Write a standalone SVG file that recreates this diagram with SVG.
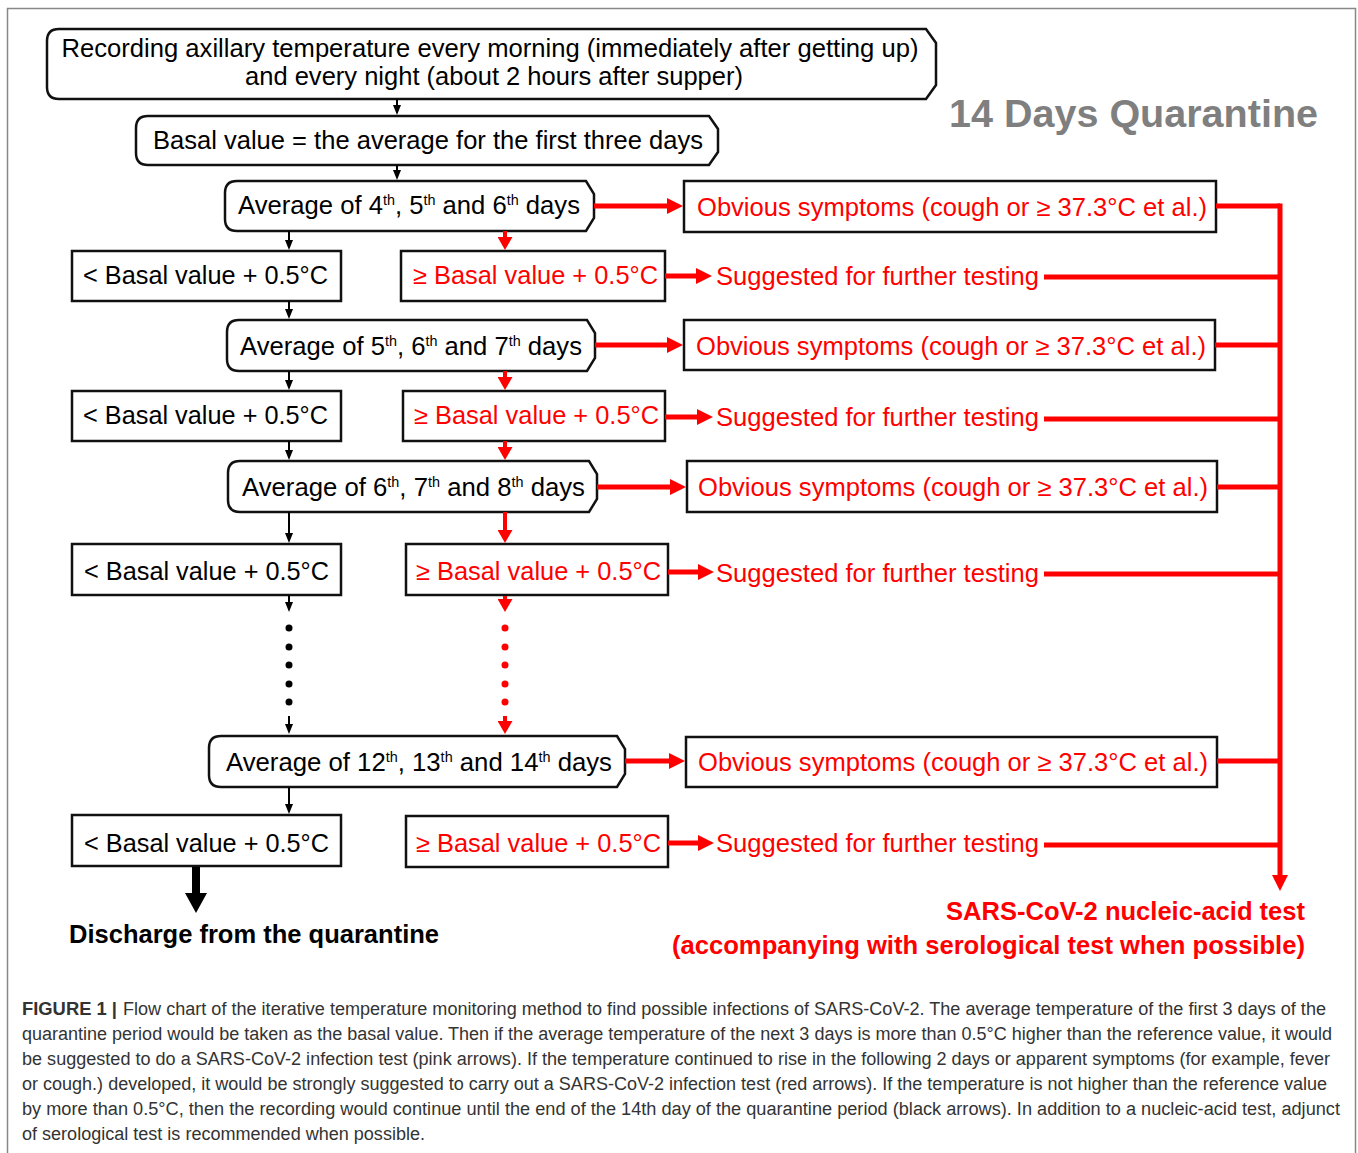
<svg xmlns="http://www.w3.org/2000/svg" width="1358" height="1153" viewBox="0 0 1358 1153">
<style>
text{font-family:"Liberation Sans",Arial,sans-serif}
.t{font-size:25px;fill:#000}
.r{font-size:25px;fill:#ff0000}
.box{fill:#fff;stroke:#111;stroke-width:2.5}
.bl{stroke:#000;stroke-width:2;fill:none}
.rl{stroke:#ff0000;stroke-width:5;fill:none}
.rv{stroke:#ff0000;stroke-width:4;fill:none}
.cap{font-size:18px;fill:#333}
.sup{font-size:14px}
</style>
<defs>
<marker id="hb" viewBox="0 0 10 8" refX="1" refY="4" markerWidth="10" markerHeight="8" markerUnits="userSpaceOnUse" orient="auto"><path d="M0,0 L10,4 L0,8 Z" fill="#000"/></marker>
<marker id="hrv" viewBox="0 0 13 15" refX="1" refY="7.5" markerWidth="13" markerHeight="15" markerUnits="userSpaceOnUse" orient="auto"><path d="M0,0 L13,7.5 L0,15 Z" fill="#ff0000"/></marker>
<marker id="hrh" viewBox="0 0 16 16" refX="1" refY="8" markerWidth="16" markerHeight="16" markerUnits="userSpaceOnUse" orient="auto"><path d="M0,0 L16,8 L0,16 Z" fill="#ff0000"/></marker>
</defs>
<rect x="7.5" y="8.5" width="1348" height="1160" fill="#fff" stroke="#888" stroke-width="1.5"/>

<g id="title"><text x="949" y="127" font-size="38" font-weight="bold" fill="#7f7f7f" textLength="369" lengthAdjust="spacingAndGlyphs">14 Days Quarantine</text></g>

<g id="n-record">
<path class="box" d="M59,29 H926 L936,43 V85 L926,99 H59 Q47,99 47,87 V41 Q47,29 59,29 Z"/>
<text class="t" x="490" y="57" text-anchor="middle" textLength="857" lengthAdjust="spacingAndGlyphs">Recording axillary temperature every morning (immediately after getting up)</text>
<text class="t" x="494" y="85" text-anchor="middle" textLength="498" lengthAdjust="spacingAndGlyphs">and every night (about 2 hours after supper)</text>
</g>
<g id="n-basal">
<path class="box" d="M148,116 H709 L718,129 V152 L709,165 H148 Q136,165 136,153 V128 Q136,116 148,116 Z"/>
<text class="t" x="428" y="149" text-anchor="middle" textLength="550" lengthAdjust="spacingAndGlyphs">Basal value = the average for the first three days</text>
</g>

<g id="n-avg1">
<path class="box" d="M237,181 H586 L594,194 V218 L586,231 H237 Q225,231 225,219 V193 Q225,181 237,181 Z"/>
<text class="t" x="238" y="214" textLength="342" lengthAdjust="spacingAndGlyphs">Average of 4<tspan class="sup" dy="-9">th</tspan><tspan dy="9">, 5</tspan><tspan class="sup" dy="-9">th</tspan><tspan dy="9"> and 6</tspan><tspan class="sup" dy="-9">th</tspan><tspan dy="9"> days</tspan></text>
</g>
<g id="n-avg2">
<path class="box" d="M239,320 H587 L595,333 V358 L587,371 H239 Q227,371 227,359 V332 Q227,320 239,320 Z"/>
<text class="t" x="240" y="355" textLength="342" lengthAdjust="spacingAndGlyphs">Average of 5<tspan class="sup" dy="-9">th</tspan><tspan dy="9">, 6</tspan><tspan class="sup" dy="-9">th</tspan><tspan dy="9"> and 7</tspan><tspan class="sup" dy="-9">th</tspan><tspan dy="9"> days</tspan></text>
</g>
<g id="n-avg3">
<path class="box" d="M240,461 H589 L597,474 V499 L589,512 H240 Q228,512 228,500 V473 Q228,461 240,461 Z"/>
<text class="t" x="242" y="496" textLength="343" lengthAdjust="spacingAndGlyphs">Average of 6<tspan class="sup" dy="-9">th</tspan><tspan dy="9">, 7</tspan><tspan class="sup" dy="-9">th</tspan><tspan dy="9"> and 8</tspan><tspan class="sup" dy="-9">th</tspan><tspan dy="9"> days</tspan></text>
</g>
<g id="n-avg4">
<path class="box" d="M221,736 H617 L625,749 V774 L617,787 H221 Q209,787 209,775 V748 Q209,736 221,736 Z"/>
<text class="t" x="226" y="771" textLength="386" lengthAdjust="spacingAndGlyphs">Average of 12<tspan class="sup" dy="-9">th</tspan><tspan dy="9">, 13</tspan><tspan class="sup" dy="-9">th</tspan><tspan dy="9"> and 14</tspan><tspan class="sup" dy="-9">th</tspan><tspan dy="9"> days</tspan></text>
</g>

<g id="n-low1"><rect class="box" x="72" y="251" width="269" height="50"/><text class="t" x="83" y="284" textLength="245" lengthAdjust="spacingAndGlyphs">&lt; Basal value + 0.5°C</text></g>
<g id="n-low2"><rect class="box" x="72" y="391" width="269" height="50"/><text class="t" x="83" y="424" textLength="245" lengthAdjust="spacingAndGlyphs">&lt; Basal value + 0.5°C</text></g>
<g id="n-low3"><rect class="box" x="72" y="544" width="269" height="51"/><text class="t" x="84" y="580" textLength="245" lengthAdjust="spacingAndGlyphs">&lt; Basal value + 0.5°C</text></g>
<g id="n-low4"><rect class="box" x="72" y="815" width="269" height="51"/><text class="t" x="84" y="852" textLength="245" lengthAdjust="spacingAndGlyphs">&lt; Basal value + 0.5°C</text></g>

<g id="n-high1"><rect class="box" x="401" y="251" width="264" height="50"/><text class="r" x="413" y="284" textLength="245" lengthAdjust="spacingAndGlyphs">≥ Basal value + 0.5°C</text></g>
<g id="n-high2"><rect class="box" x="403" y="391" width="262" height="50"/><text class="r" x="414" y="424" textLength="245" lengthAdjust="spacingAndGlyphs">≥ Basal value + 0.5°C</text></g>
<g id="n-high3"><rect class="box" x="406" y="544" width="262" height="51"/><text class="r" x="416" y="580" textLength="245" lengthAdjust="spacingAndGlyphs">≥ Basal value + 0.5°C</text></g>
<g id="n-high4"><rect class="box" x="406" y="816" width="262" height="51"/><text class="r" x="416" y="852" textLength="245" lengthAdjust="spacingAndGlyphs">≥ Basal value + 0.5°C</text></g>

<g id="n-obv1"><rect class="box" x="684" y="181" width="532" height="51"/><text class="r" x="697" y="216" textLength="510" lengthAdjust="spacingAndGlyphs">Obvious symptoms (cough or ≥ 37.3°C et al.)</text></g>
<g id="n-obv2"><rect class="box" x="684" y="320" width="531" height="50"/><text class="r" x="696" y="355" textLength="510" lengthAdjust="spacingAndGlyphs">Obvious symptoms (cough or ≥ 37.3°C et al.)</text></g>
<g id="n-obv3"><rect class="box" x="687" y="461" width="530" height="51"/><text class="r" x="698" y="496" textLength="510" lengthAdjust="spacingAndGlyphs">Obvious symptoms (cough or ≥ 37.3°C et al.)</text></g>
<g id="n-obv4"><rect class="box" x="686" y="737" width="531" height="50"/><text class="r" x="698" y="771" textLength="510" lengthAdjust="spacingAndGlyphs">Obvious symptoms (cough or ≥ 37.3°C et al.)</text></g>

<g id="n-sug1"><text class="r" x="716" y="285" textLength="323" lengthAdjust="spacingAndGlyphs">Suggested for further testing</text></g>
<g id="n-sug2"><text class="r" x="716" y="426" textLength="323" lengthAdjust="spacingAndGlyphs">Suggested for further testing</text></g>
<g id="n-sug3"><text class="r" x="716" y="582" textLength="323" lengthAdjust="spacingAndGlyphs">Suggested for further testing</text></g>
<g id="n-sug4"><text class="r" x="716" y="852" textLength="323" lengthAdjust="spacingAndGlyphs">Suggested for further testing</text></g>

<g id="n-discharge"><text x="69" y="943" font-size="26" font-weight="bold" fill="#000" textLength="370" lengthAdjust="spacingAndGlyphs">Discharge from the quarantine</text></g>
<g id="n-sars">
<text x="1305" y="920" font-size="25" font-weight="bold" fill="#ff0000" text-anchor="end" textLength="359" lengthAdjust="spacingAndGlyphs">SARS-CoV-2 nucleic-acid test</text>
<text x="1305" y="954" font-size="25" font-weight="bold" fill="#ff0000" text-anchor="end" textLength="633" lengthAdjust="spacingAndGlyphs">(accompanying with serological test when possible)</text>
</g>

<g id="connectors">
<line class="bl" x1="397" y1="99" x2="397" y2="106" marker-end="url(#hb)"/>
<line class="bl" x1="397" y1="165" x2="397" y2="171" marker-end="url(#hb)"/>
<line class="bl" x1="289" y1="231" x2="289" y2="241" marker-end="url(#hb)"/>
<line class="bl" x1="289" y1="301" x2="289" y2="310" marker-end="url(#hb)"/>
<line class="bl" x1="289" y1="371" x2="289" y2="381" marker-end="url(#hb)"/>
<line class="bl" x1="289" y1="441" x2="289" y2="451" marker-end="url(#hb)"/>
<line class="bl" x1="289" y1="512" x2="289" y2="534" marker-end="url(#hb)"/>
<line class="bl" x1="289" y1="595" x2="289" y2="603" marker-end="url(#hb)"/>
<line class="bl" x1="289" y1="716" x2="289" y2="725" marker-end="url(#hb)"/>
<line class="bl" x1="289" y1="787" x2="289" y2="805" marker-end="url(#hb)"/>
<g fill="#000"><circle cx="289" cy="628" r="3.5"/><circle cx="289" cy="647" r="3.5"/><circle cx="289" cy="665" r="3.5"/><circle cx="289" cy="684" r="3.5"/><circle cx="289" cy="702" r="3.5"/></g>
<path d="M192,867 H200 V893 H207 L196,913 L185,893 H192 Z" fill="#000"/>
<line class="rv" x1="505" y1="231" x2="505" y2="238" marker-end="url(#hrv)"/>
<line class="rv" x1="505" y1="371" x2="505" y2="378" marker-end="url(#hrv)"/>
<line class="rv" x1="505" y1="441" x2="505" y2="448" marker-end="url(#hrv)"/>
<line class="rv" x1="505" y1="512" x2="505" y2="531" marker-end="url(#hrv)"/>
<line class="rv" x1="505" y1="596" x2="505" y2="600" marker-end="url(#hrv)"/>
<line class="rv" x1="505" y1="716" x2="505" y2="722" marker-end="url(#hrv)"/>
<g fill="#ff0000"><circle cx="505" cy="628" r="3.5"/><circle cx="505" cy="647" r="3.5"/><circle cx="505" cy="665" r="3.5"/><circle cx="505" cy="684" r="3.5"/><circle cx="505" cy="702" r="3.5"/></g>
<line class="rl" x1="594" y1="206" x2="668" y2="206" marker-end="url(#hrh)"/>
<line class="rl" x1="595" y1="345" x2="668" y2="345" marker-end="url(#hrh)"/>
<line class="rl" x1="597" y1="487" x2="671" y2="487" marker-end="url(#hrh)"/>
<line class="rl" x1="625" y1="761" x2="670" y2="761" marker-end="url(#hrh)"/>
<line class="rl" x1="665" y1="276" x2="697" y2="276" marker-end="url(#hrh)"/>
<line class="rl" x1="665" y1="417" x2="698" y2="417" marker-end="url(#hrh)"/>
<line class="rl" x1="668" y1="572" x2="699" y2="572" marker-end="url(#hrh)"/>
<line class="rl" x1="668" y1="843" x2="699" y2="843" marker-end="url(#hrh)"/>
<path class="rl" d="M1216,206 H1280 M1044,277 H1280 M1215,345 H1280 M1044,419 H1280 M1217,487 H1280 M1044,574 H1280 M1217,761 H1280 M1044,845 H1280"/>
<line class="rl" x1="1280" y1="203.5" x2="1280" y2="876" marker-end="url(#hrh)"/>
</g>

<g id="caption">
<text class="cap" x="22" y="1015" font-weight="bold" textLength="95" lengthAdjust="spacingAndGlyphs">FIGURE 1 |</text>
<text class="cap" x="123" y="1015" textLength="1203" lengthAdjust="spacingAndGlyphs">Flow chart of the iterative temperature monitoring method to find possible infections of SARS-CoV-2. The average temperature of the first 3 days of the</text>
<text class="cap" x="22" y="1040" textLength="1310" lengthAdjust="spacingAndGlyphs">quarantine period would be taken as the basal value. Then if the average temperature of the next 3 days is more than 0.5°C higher than the reference value, it would</text>
<text class="cap" x="22" y="1065" textLength="1308" lengthAdjust="spacingAndGlyphs">be suggested to do a SARS-CoV-2 infection test (pink arrows). If the temperature continued to rise in the following 2 days or apparent symptoms (for example, fever</text>
<text class="cap" x="22" y="1090" textLength="1305" lengthAdjust="spacingAndGlyphs">or cough.) developed, it would be strongly suggested to carry out a SARS-CoV-2 infection test (red arrows). If the temperature is not higher than the reference value</text>
<text class="cap" x="22" y="1115" textLength="1318" lengthAdjust="spacingAndGlyphs">by more than 0.5°C, then the recording would continue until the end of the 14th day of the quarantine period (black arrows). In addition to a nucleic-acid test, adjunct</text>
<text class="cap" x="22" y="1140" textLength="403" lengthAdjust="spacingAndGlyphs">of serological test is recommended when possible.</text>
</g>
</svg>
